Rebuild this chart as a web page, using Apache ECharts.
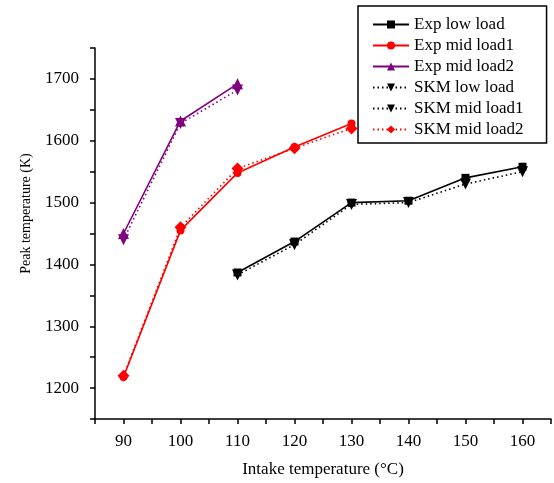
<!DOCTYPE html>
<html>
<head>
<meta charset="utf-8">
<script src="https://cdn.jsdelivr.net/npm/echarts@6/dist/echarts.min.js"></script>
<style>
  html, body { margin: 0; padding: 0; background: #fff; }
  #chart { width: 554px; height: 483px; }
</style>
</head>
<body>
<div id="chart"></div>
<script>
// Intake temperature (°C) for each load case
const tempLow = [110, 120, 130, 140, 150, 160];
const tempMid = [90, 100, 110, 120, 130];
const tempMid2 = [90, 100, 110];

// Peak temperature (K): experiment
const expLow = [1387, 1437, 1500, 1503, 1540, 1558];
const expMid1 = [1218, 1455, 1548, 1590, 1628];
const expMid2 = [1450, 1632, 1692];

// Peak temperature (K): SKM model
const skmLow = [1383, 1432, 1497, 1500, 1530, 1550];
const skmMid1 = [1440, 1628, 1682];
const skmMid2 = [1220, 1460, 1555, 1588, 1620];

const seriesNames = ['Exp low load', 'Exp mid load1', 'Exp mid load2',
                     'SKM low load', 'SKM mid load1', 'SKM mid load2'];

const pairs = (xs, ys) => xs.map((x, i) => [x, ys[i]]);
const serif = '"Liberation Serif", "Times New Roman", serif';

function line(name, xs, ys, color, symbol, size, dotted, rotate) {
  return {
    name: name,
    type: 'line',
    data: pairs(xs, ys),
    symbol: symbol,
    symbolSize: size,
    symbolRotate: rotate || 0,
    color: color,
    itemStyle: { color: color },
    lineStyle: { color: color, width: 1.6, type: dotted ? [1.5, 3] : 'solid' },
    z: dotted ? 3 : 2
  };
}

const chart = echarts.init(document.getElementById('chart'));
chart.setOption({
  animation: false,
  backgroundColor: '#fff',
  grid: { left: 95, right: -1, top: 48, bottom: 63 },
  xAxis: {
    type: 'value',
    min: 85, max: 165, interval: 5,
    name: 'Intake temperature (°C)',
    nameLocation: 'middle',
    nameGap: 42,
    nameTextStyle: { fontFamily: serif, fontSize: 17, color: '#000' },
    axisLine: { show: true, onZero: false, lineStyle: { color: '#000', width: 1.5 } },
    axisTick: { show: true, inside: false, length: 5, lineStyle: { color: '#000', width: 1.5 } },
    axisLabel: {
      fontFamily: serif, fontSize: 17, color: '#000', margin: 14,
      formatter: v => (v % 10 === 0 ? String(v) : '')
    },
    splitLine: { show: false }
  },
  yAxis: {
    type: 'value',
    min: 1150, max: 1750, interval: 50,
    name: 'Peak temperature (K)',
    nameLocation: 'middle',
    nameGap: 62,
    nameTextStyle: { fontFamily: serif, fontSize: 14, color: '#000', padding: [0, 0, 0, 40] },
    axisLine: { show: true, onZero: false, lineStyle: { color: '#000', width: 1.5 } },
    axisTick: { show: true, inside: false, length: 5, lineStyle: { color: '#000', width: 1.5 } },
    axisLabel: {
      fontFamily: serif, fontSize: 17, color: '#000', margin: 16,
      formatter: v => (v % 100 === 0 ? String(v) : '')
    },
    splitLine: { show: false }
  },
  legend: {
    orient: 'vertical',
    left: 358, top: 6,
    padding: [10, 23, 5, 14],
    itemWidth: 36, itemHeight: 10, itemGap: 4,
    backgroundColor: '#fff',
    borderColor: '#000', borderWidth: 1.5, borderRadius: 0,
    textStyle: { fontFamily: serif, fontSize: 17, color: '#000' },
    data: [
      { name: seriesNames[0] },
      { name: seriesNames[1] },
      { name: seriesNames[2] },
      { name: seriesNames[3] },
      { name: seriesNames[4], itemStyle: { color: '#000' }, lineStyle: { color: '#000' } },
      { name: seriesNames[5] }
    ],
    z: 10
  },
  series: [
    line(seriesNames[0], tempLow, expLow, '#000000', 'rect', 8, false),
    line(seriesNames[1], tempMid, expMid1, '#ff0000', 'circle', 8, false),
    line(seriesNames[2], tempMid2, expMid2, '#800080', 'triangle', 11, false),
    line(seriesNames[3], tempLow, skmLow, '#000000', 'triangle', 11, true, 180),
    line(seriesNames[4], tempMid2, skmMid1, '#800080', 'triangle', 11, true, 180),
    line(seriesNames[5], tempMid, skmMid2, '#ff0000', 'diamond', 12, true)
  ]
});
</script>
</body>
</html>
